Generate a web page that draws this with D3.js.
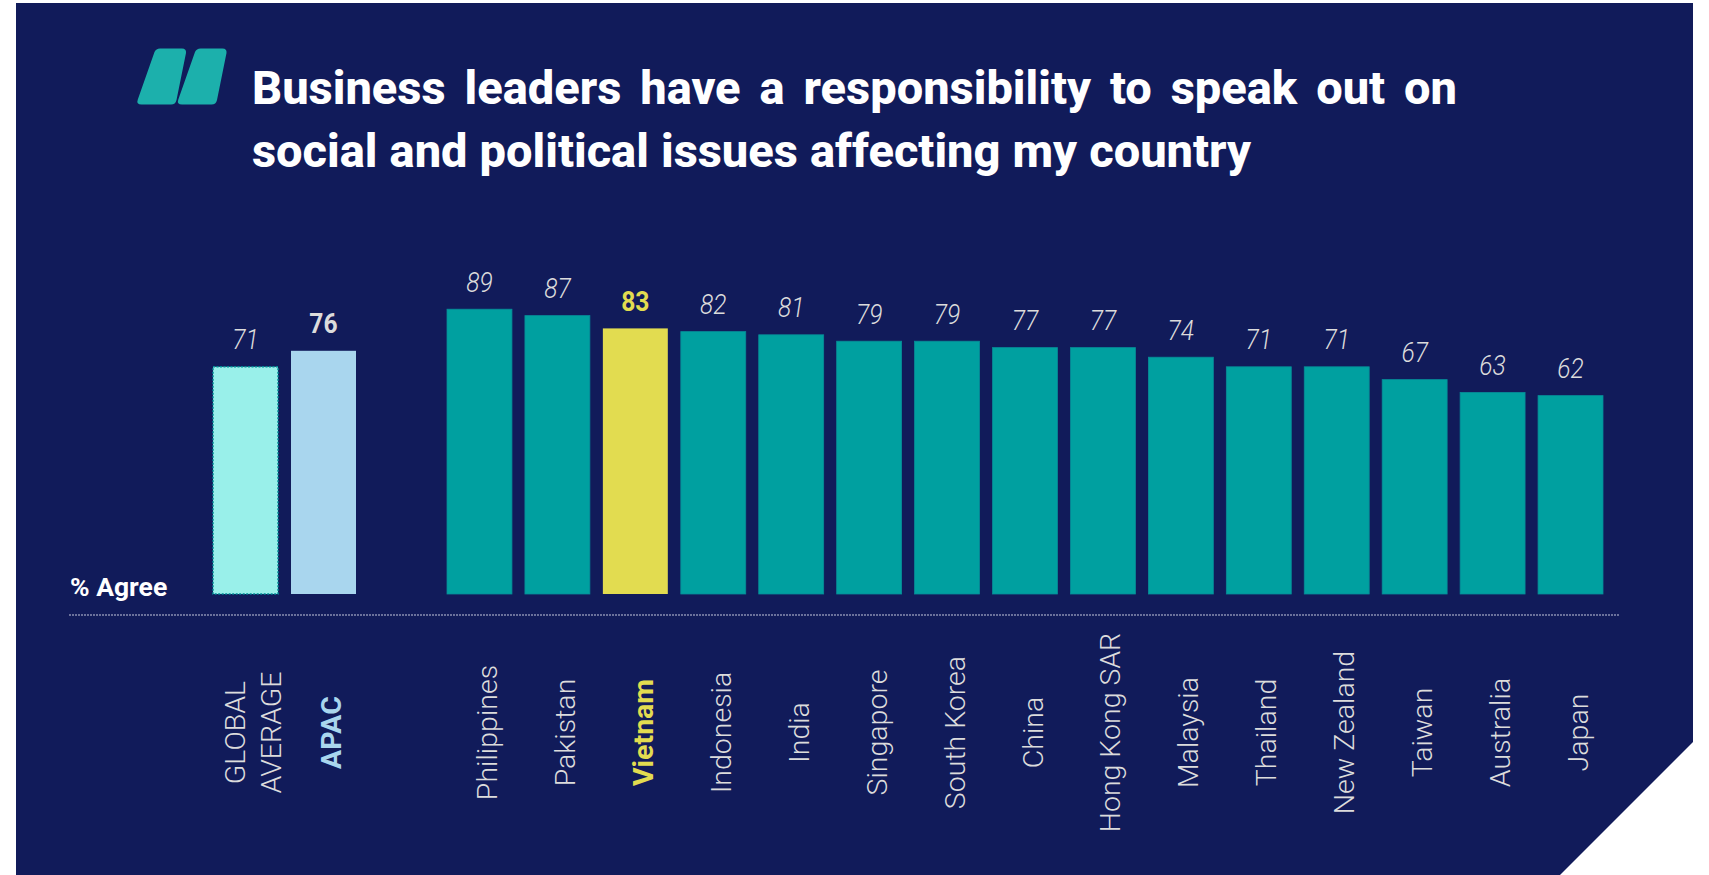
<!DOCTYPE html>
<html>
<head>
<meta charset="utf-8">
<title>Business leaders have a responsibility to speak out</title>
<script src="https://cdn.jsdelivr.net/npm/d3@7"></script>
<style>
  html, body { margin: 0; padding: 0; background: #fff; overflow: hidden; }
  svg { display: block; }
</style>
</head>
<body>
<svg id="chart" width="1709" height="875"></svg>
<script>
const summaryNames = ["GLOBAL AVERAGE", "APAC"];
const summaryValues = [71, 76];
const countryNames = ["Philippines", "Pakistan", "Vietnam", "Indonesia", "India", "Singapore", "South Korea",
  "China", "Hong Kong SAR", "Malaysia", "Thailand", "New Zealand", "Taiwan", "Australia", "Japan"];
const countryValues = [89, 87, 83, 82, 81, 79, 79, 77, 77, 74, 71, 71, 67, 63, 62];
const titleLines = ["Business leaders have a responsibility to speak out on", "social and political issues affecting my country"];
const titleWidths = [1205, 999];
const yAxisLabel = "% Agree";

const NAVY = "#111b5a", TEAL = "#00a0a0", TEAL_EDGE = "#078c98", YELLOW = "#e2dc50", PALE_TEAL = "#99f0ea", PALE_BLUE = "#a9d6ee", MARK = "#1cb0ac";
const FONT = "Roboto, 'Noto Sans', sans-serif";

const svg = d3.select("#chart");

// Panel with the clipped lower right corner
svg.append("path")
  .attr("d", "M16,3H1693V742L1560,875H16Z")
  .attr("fill", NAVY);

// Slanted quotation mark beside the title
const quote = svg.append("g").attr("fill", MARK);
[0, 40.5].forEach(dx => {
  quote.append("path")
    .attr("transform", `translate(${dx},0)`)
    .attr("d", "M160,48.5H182Q186.5,48.5 186,53L176.5,100Q175.5,104.5 171,104.5H141.5Q136,104.5 137.8,99.5L154.5,52Q156,48.5 160,48.5Z");
});

// Title lines, with word gaps adjusted so each line fills its measure
svg.selectAll("text.title").data(titleLines).join("text")
  .attr("class", "title")
  .attr("x", 252)
  .attr("y", (d, i) => 103.5 + i * 63)
  .attr("font-family", FONT)
  .attr("font-weight", 800)
  .attr("font-size", 47)
  .attr("fill", "#fff")
  .text(d => d)
  .attr("word-spacing", function (d, i) {
    const gaps = d.split(" ").length - 1;
    return (titleWidths[i] - this.getComputedTextLength()) / gaps;
  });

const y = d3.scaleLinear().domain([0, 100]).range([594, 274]);
const xSummary = d3.scaleBand().domain(summaryNames).range([213, 356]).paddingInner(1 / 6);
const xCountry = d3.scaleBand().domain(countryNames).range([447, 1603]).paddingInner(1 / 6);

const summaryFill = { "GLOBAL AVERAGE": PALE_TEAL, "APAC": PALE_BLUE };
const summary = summaryNames.map((name, i) => ({ name, value: summaryValues[i], x: xSummary(name), w: xSummary.bandwidth(), fill: summaryFill[name] }));
const countries = countryNames.map((name, i) => ({ name, value: countryValues[i], x: xCountry(name), w: xCountry.bandwidth(), fill: name === "Vietnam" ? YELLOW : TEAL }));
const all = summary.concat(countries);

svg.selectAll("rect.bar").data(all).join("rect")
  .attr("class", "bar")
  .attr("x", d => d.x)
  .attr("y", d => y(d.value))
  .attr("width", d => d.w)
  .attr("height", d => y(0) - y(d.value))
  .attr("fill", d => d.fill)
  .attr("stroke", d => d.fill === TEAL ? TEAL_EDGE : "none")
  .attr("stroke-width", 0.8);

// Dotted outline around the global average bar
svg.append("rect")
  .attr("x", summary[0].x)
  .attr("y", y(summary[0].value))
  .attr("width", summary[0].w)
  .attr("height", y(0) - y(summary[0].value))
  .attr("fill", "none")
  .attr("stroke", "#008c96")
  .attr("stroke-width", 1.5)
  .attr("stroke-dasharray", "2 1.5");

// Value labels above the bars, narrowed a little around their own anchor
const highlighted = d => d.name === "APAC" || d.name === "Vietnam";
svg.selectAll("text.value").data(all).join("text")
  .attr("class", "value")
  .attr("transform", d => `translate(${d.x + d.w / 2},${y(d.value) - 17.5}) scale(0.88,1)`)
  .attr("text-anchor", "middle")
  .attr("font-family", FONT)
  .attr("font-size", 28)
  .attr("font-style", d => highlighted(d) ? "normal" : "italic")
  .attr("font-weight", d => highlighted(d) ? 700 : 300)
  .attr("fill", d => d.name === "Vietnam" ? YELLOW : "#dcdcdc")
  .text(d => d.value);

// Axis label and dashed baseline rule
svg.append("text")
  .attr("x", 70).attr("y", 596)
  .attr("font-family", FONT).attr("font-weight", 700).attr("font-size", 26.5)
  .attr("fill", "#fff")
  .text(yAxisLabel);

svg.append("line")
  .attr("x1", 69).attr("x2", 1619)
  .attr("y1", 615).attr("y2", 615)
  .attr("stroke", "#c4c8dc").attr("stroke-width", 1).attr("stroke-dasharray", "2 1");

// Rotated category labels, centred on a shared line below the rule
const labelCentreY = 732.5;
const labelLines = d => d.name === "GLOBAL AVERAGE" ? ["GLOBAL", "AVERAGE"] : [d.name];
const labels = svg.selectAll("g.cat").data(all).join("g")
  .attr("class", "cat")
  .attr("transform", d => `translate(${d.x + d.w / 2},${labelCentreY}) rotate(-90)`);
labels.selectAll("text").data(d => labelLines(d).map((t, i, a) => ({ t, i, n: a.length, d }))).join("text")
  .attr("x", 0)
  .attr("y", l => 17.5 + (l.i - (l.n - 1) / 2) * 36)
  .attr("text-anchor", "middle")
  .attr("font-family", FONT)
  .attr("font-size", 28.5)
  .attr("font-weight", l => highlighted(l.d) ? 700 : 300)
  .attr("fill", l => l.d.name === "Vietnam" ? YELLOW : l.d.name === "APAC" ? PALE_BLUE : "#dcdcdc")
  .text(l => l.t);
</script>
</body>
</html>
